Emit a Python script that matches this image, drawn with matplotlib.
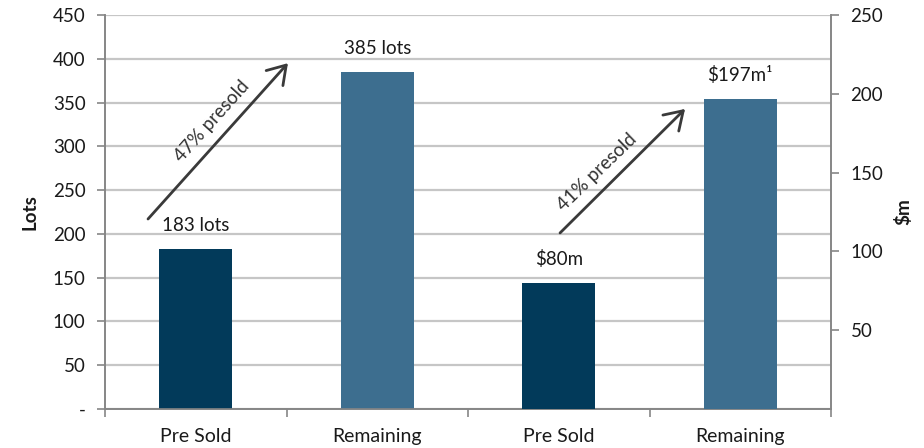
import matplotlib
matplotlib.use("Agg")
import matplotlib.pyplot as plt
from matplotlib.ticker import FixedLocator, FuncFormatter

plt.rcParams['font.family'] = ['Lato', 'DejaVu Sans']

categories = ["Pre Sold", "Remaining", "Pre Sold", "Remaining"]
lots_values = [183, 385]
lots_labels = ["183 lots", "385 lots"]
dollar_values = [80, 197]
dollar_labels = ["$80m", "$197m\u00b9"]
bar_colors = ["#023a5a", "#3d6e8f"]
presold_texts = ["47% presold", "41% presold"]

fig = plt.figure(figsize=(9.24, 4.48), dpi=100)
ax = fig.add_axes([105/924, 1-409/448, (831-105)/924, (409-15)/448])
ax2 = ax.twinx()

grid_c = "#c6c6c6"
spine_c = "#868686"
txt_c = "#1a1a1a"
fs = 13.5

# left axis: lots
ax.set_ylim(0, 450)
ax.set_xlim(-0.5, 3.5)
ax.yaxis.set_major_locator(FixedLocator(range(0, 451, 50)))
ax.yaxis.set_major_formatter(FuncFormatter(lambda v, p: "-" if v == 0 else f"{int(v)}"))
ax.grid(axis='y', color=grid_c, lw=1.6, zorder=0)
ax.set_axisbelow(True)

# right axis: $m
ax2.set_ylim(0, 250)
ax2.yaxis.set_major_locator(FixedLocator(range(50, 251, 50)))

bw = 0.4
for i, (v, lab) in enumerate(zip(lots_values, lots_labels)):
    ax.bar(i, v, width=bw, color=bar_colors[i], zorder=3)
    ax.annotate(lab, (i, v), xytext=(0, 17), textcoords='offset points',
                ha='center', va='center', fontsize=fs, color=txt_c)
for j, (v, lab) in enumerate(zip(dollar_values, dollar_labels)):
    x = j + 2
    ax2.bar(x, v, width=bw, color=bar_colors[j], zorder=3)
    ax2.annotate(lab, (x, v), xytext=(0, 17), textcoords='offset points',
                 ha='center', va='center', fontsize=fs, color=txt_c)

# x axis: category boundaries as ticks, labels at centres
ax.set_xticks([-0.5, 0.5, 1.5, 2.5, 3.5])
ax.set_xticklabels([])
ax.set_xticks(range(len(categories)), minor=True)
ax.set_xticklabels(categories, minor=True, fontsize=14, color=txt_c)
ax.tick_params(axis='x', which='major', length=6, color=spine_c, width=1.2)
ax.tick_params(axis='x', which='minor', length=0, pad=14)

ax.tick_params(axis='y', length=6, color=spine_c, width=1.2, labelsize=fs,
               labelcolor=txt_c, pad=8)
ax2.tick_params(axis='y', length=6, color=spine_c, width=1.2, labelsize=fs,
                labelcolor=txt_c, pad=8)

for a in (ax, ax2):
    a.spines['top'].set_visible(False)
    for s in ('left', 'right', 'bottom'):
        a.spines[s].set_color(spine_c)
        a.spines[s].set_linewidth(1.2)

ax.set_ylabel("Lots", fontsize=fs, fontweight='bold', color=txt_c, labelpad=10)
ax2.set_ylabel("$m", fontsize=fs, fontweight='bold', color=txt_c, labelpad=8, rotation=90)

# arrows
arrow_kw = dict(arrowstyle='->,head_length=0.7,head_width=0.45', color='#3a3a3a', lw=2,
                shrinkA=0, shrinkB=0, mutation_scale=18)
ax.annotate("", xy=(0.508, 395), xytext=(-0.263, 217), arrowprops=arrow_kw, zorder=5)
ax.text(0.09, 329, presold_texts[0], rotation=48, rotation_mode='anchor',
        ha='center', va='center', fontsize=fs, color='#333333')
ax2.annotate("", xy=(2.696, 190.4), xytext=(2.007, 111.7), arrowprops=arrow_kw, zorder=5)
ax2.text(2.21, 150.4, presold_texts[1], rotation=44, rotation_mode='anchor',
         ha='center', va='center', fontsize=fs, color='#333333')

fig.savefig("out.png", dpi=100)
